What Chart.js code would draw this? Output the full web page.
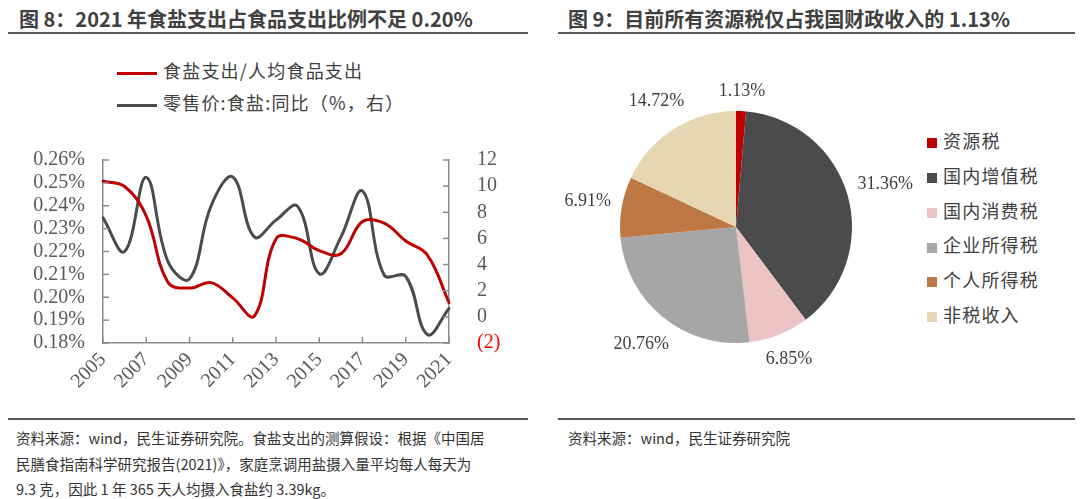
<!DOCTYPE html>
<html>
<head>
<meta charset="utf-8">
<script src="https://cdn.jsdelivr.net/npm/chart.js@4/dist/chart.umd.min.js"></script>
<style>
  html, body { margin:0; padding:0; background:#fff; }
  body { width:1080px; height:499px; position:relative; overflow:hidden; font-family:"Noto Sans CJK SC","Noto Sans",sans-serif; }
  .title { position:absolute; top:4px; font-size:20px; font-weight:bold; color:#404040; white-space:nowrap; }
  .rule { position:absolute; height:2px; background:#595959; }
  .foot { position:absolute; font-size:14.5px; color:#333; line-height:25.5px; white-space:nowrap; }
  .lg { position:absolute; font-size:18px; color:#404040; white-space:nowrap; letter-spacing:1.2px; }
  .lg .sym { display:inline-block; vertical-align:middle; }
  canvas { position:absolute; }
</style>
</head>
<body>
<div class="title" style="left:19px;">图 8：2021 年食盐支出占食品支出比例不足 0.20%</div>
<div class="title" style="left:568px;">图 9：目前所有资源税仅占我国财政收入的 1.13%</div>
<div class="rule" style="left:8px; width:520px; top:32px;"></div>
<div class="rule" style="left:558px; width:517px; top:32px;"></div>
<div class="rule" style="left:8px; width:520px; top:418px;"></div>
<div class="rule" style="left:558px; width:517px; top:418px;"></div>
<div class="foot" style="left:16px; top:425px;">资料来源：wind，民生证券研究院。食盐支出的测算假设：根据《中国居<br>民膳食指南科学研究报告(2021)》，家庭烹调用盐摄入量平均每人每天为<br>9.3 克，因此 1 年 365 天人均摄入食盐约 3.39kg。</div>
<div class="foot" style="left:568px; top:425px;">资料来源：wind，民生证券研究院</div>

<div id="lineLegend"></div>
<div id="pieLegend"></div>

<canvas id="lineChart" width="530" height="290" style="left:0px; top:120px;"></canvas>
<canvas id="pieChart" width="360" height="334" style="left:556px; top:60px;"></canvas>

<script>
// ---------- Data: figure 8 ----------
const years = ['2005','2006','2007','2008','2009','2010','2011','2012','2013','2014','2015','2016','2017','2018','2019','2020','2021'];
const saltShareName = '食盐支出/人均食品支出';
const saltShare = [0.2507,0.2484,0.2355,0.2066,0.2040,0.2064,0.1997,0.1918,0.2255,0.2256,0.2204,0.2190,0.2331,0.2324,0.2246,0.2184,0.1977];
const saltPriceName = '零售价:食盐:同比（%，右）';
const saltPriceYoY = [7.57,5.0,10.67,4.25,2.9,8.5,10.7,6.12,7.4,8.45,3.3,6.1,9.62,3.2,3.1,-1.35,0.64];
const leftTicks = { min:0.18, max:0.26, step:0.01 };
const rightTicks = { min:-2, max:12, step:2 };

// ---------- Data: figure 9 ----------
const taxCategories = ['资源税','国内增值税','国内消费税','企业所得税','个人所得税','非税收入'];
const taxShares = [1.13,31.36,6.85,20.76,6.91,14.72];
const taxColors = ['#C00000','#4B4B4D','#EBC3C3','#A6A6A6','#BE7844','#E7D6B4'];

const RED = '#C00000', DARK = '#4B4B4D';

// Legends (HTML)
const ll = document.getElementById('lineLegend');
[[saltShareName, RED, 70],[saltPriceName, DARK, 102]].forEach(([t,c,y])=>{
  const d = document.createElement('div'); d.className='lg';
  d.style.left='117px'; d.style.top=(y-13)+'px';
  d.innerHTML = '<span class="sym" style="width:40px;height:3px;background:'+c+';margin-right:6px;"></span>'+t;
  ll.appendChild(d);
});
const pl = document.getElementById('pieLegend');
taxCategories.forEach((t,i)=>{
  const d = document.createElement('div'); d.className='lg';
  d.style.left='927px'; d.style.top=(141+i*34.8-14)+'px';
  d.innerHTML = '<span class="sym" style="width:10px;height:10px;background:'+taxColors[i]+';margin-right:6px;"></span>'+t;
  pl.appendChild(d);
});

// Inward tick marks
const innerTicks = {
  id:'innerTicks',
  afterDraw(chart){
    const ctx = chart.ctx, a = chart.chartArea;
    ctx.save(); ctx.strokeStyle='#8c8c8c'; ctx.lineWidth=1.5;
    const seg=(x1,y1,x2,y2)=>{ctx.beginPath();ctx.moveTo(x1,y1);ctx.lineTo(x2,y2);ctx.stroke();};
    const y = chart.scales.y, y1 = chart.scales.y1, x = chart.scales.x;
    y.ticks.forEach((t,i)=>{const p=y.getPixelForTick(i); seg(a.left,p,a.left+6,p);});
    y1.ticks.forEach((t,i)=>{const p=y1.getPixelForTick(i); seg(a.right,p,a.right-6,p);});
    x.ticks.forEach((t,i)=>{ if(i%2===0){const p=x.getPixelForTick(i); seg(p,a.bottom,p,a.bottom-6);} });
    ctx.restore();
  }
};

const serif = '"Liberation Serif", "Times New Roman", serif';

new Chart(document.getElementById('lineChart'), {
  type:'line',
  data:{ labels:years, datasets:[
    { label:saltShareName, data:saltShare, yAxisID:'y', borderColor:RED, borderWidth:3, pointRadius:0, tension:0.4, fill:false, borderCapStyle:'round' },
    { label:saltPriceName, data:saltPriceYoY, yAxisID:'y1', borderColor:DARK, borderWidth:3, pointRadius:0, tension:0.4, fill:false, borderCapStyle:'round' }
  ]},
  options:{
    responsive:false, animation:false, devicePixelRatio:1,
    layout:{ padding:{ top:23, left:0, right:0, bottom:0 } },
    plugins:{ legend:{display:false}, tooltip:{enabled:false} },
    scales:{
      x:{
        offset:false,
        grid:{ display:true, drawOnChartArea:false, drawTicks:false },
        border:{ display:true, color:'#8c8c8c', width:1.5 },
        ticks:{ autoSkip:false, maxRotation:45, minRotation:45, padding:5, color:'#595959',
          font:{ family:serif, size:20 },
          callback:(v,i)=> i%2===0 ? years[i] : '' },
        afterFit:(s)=>{ s.height = 67; }
      },
      y:{
        position:'left', min:leftTicks.min, max:leftTicks.max,
        grid:{ display:true, drawOnChartArea:false, drawTicks:false },
        border:{ display:true, color:'#8c8c8c', width:1.5 },
        ticks:{ stepSize:leftTicks.step, autoSkip:false, padding:18, color:'#595959',
          font:{ family:serif, size:20 },
          callback:(v)=> Number(v).toFixed(2)+'%' },
        afterFit:(s)=>{ s.width = 103; }
      },
      y1:{
        position:'right', min:rightTicks.min, max:rightTicks.max,
        grid:{ display:true, drawOnChartArea:false, drawTicks:false },
        border:{ display:true, color:'#8c8c8c', width:1.5 },
        ticks:{ stepSize:rightTicks.step, autoSkip:false, padding:28,
          color:(c)=> c.tick && c.tick.value<0 ? '#FF0000' : '#595959',
          font:{ family:serif, size:20 },
          callback:(v)=> v<0 ? '('+(-v)+')' : String(v) },
        afterFit:(s)=>{ s.width = 81; }
      }
    }
  },
  plugins:[innerTicks]
});

// Pie outside labels
const pieLabels = {
  id:'pieLabels',
  afterDraw(chart){
    const ctx = chart.ctx, meta = chart.getDatasetMeta(0);
    ctx.save();
    ctx.font = '18px ' + serif;
    ctx.fillStyle = '#404040'; ctx.textAlign='center'; ctx.textBaseline='middle';
    meta.data.forEach((arc,i)=>{
      const p = arc.getProps(['x','y','startAngle','endAngle','outerRadius'], true);
      const mid = (p.startAngle+p.endAngle)/2;
      const txt = taxShares[i].toFixed(2)+'%';
      const w = ctx.measureText(txt).width, h = 18;
      const dx = Math.cos(mid), dy = Math.sin(mid);
      const r = p.outerRadius + 10 + (w/2)*Math.abs(dx) + (h/2)*Math.abs(dy);
      ctx.fillText(txt, p.x + r*dx, p.y + r*dy);
    });
    ctx.restore();
  }
};

new Chart(document.getElementById('pieChart'), {
  type:'pie',
  data:{ labels:taxCategories, datasets:[{ data:taxShares, backgroundColor:taxColors, borderWidth:0 }] },
  options:{
    responsive:false, animation:false, devicePixelRatio:1,
    radius:116, rotation:0,
    plugins:{ legend:{display:false}, tooltip:{enabled:false} }
  },
  plugins:[pieLabels]
});
</script>
</body>
</html>
